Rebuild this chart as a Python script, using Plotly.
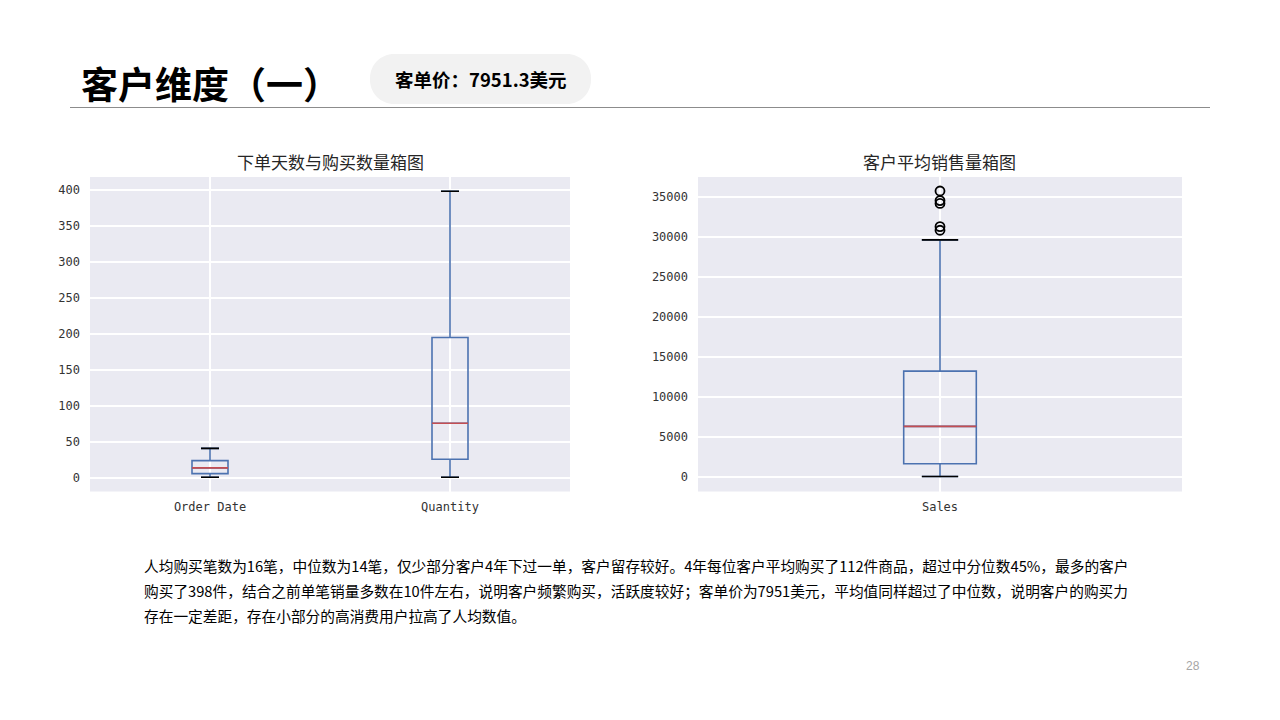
import plotly.graph_objects as go

# ---------------- data ----------------
left_categories = ["Order Date", "Quantity"]
left_lower = [1, 1]
left_q1 = [6, 26]
left_median = [14, 76]
left_q3 = [24, 195]
left_upper = [41, 398]

right_categories = ["Sales"]
right_lower = [80]
right_q1 = [1670]
right_median = [6350]
right_q3 = [13250]
right_upper = [29650]
right_outliers = [30850, 31300, 34200, 34550, 35750]

left_yticks = [0, 50, 100, 150, 200, 250, 300, 350, 400]
right_yticks = [0, 5000, 10000, 15000, 20000, 25000, 30000, 35000]

page_title = "客户维度（一）"
badge_text = "客单价：7951.3美元"
left_title = "下单天数与购买数量箱图"
right_title = "客户平均销售量箱图"
paragraph = [
    "人均购买笔数为16笔，中位数为14笔，仅少部分客户4年下过一单，客户留存较好。4年每位客户平均购买了112件商品，超过中分位数45%，最多的客户",
    "购买了398件，结合之前单笔销量多数在10件左右，说明客户频繁购买，活跃度较好；客单价为7951美元，平均值同样超过了中位数，说明客户的购买力",
    "存在一定差距，存在小部分的高消费用户拉高了人均数值。",
]
page_number = "28"

# ---------------- style ----------------
W, H = 1280, 720
BLUE = "#4C72B0"
RED = "#C44E52"
BG = "#EAEAF2"
BOX_W = 0.15
CJK = "Noto Sans CJK SC"
MONO = "DejaVu Sans Mono"


def px(x):
    return x / W


def py(y):
    return 1 - y / H


fig = go.Figure()


def add_boxes(xref, yref, cats, lo, q1, med, q3, hi):
    pos = [i + 1 for i in range(len(cats))]
    fig.add_trace(go.Box(
        x=pos, q1=q1, median=med, q3=q3, lowerfence=lo, upperfence=hi,
        width=BOX_W, whiskerwidth=0.5, boxpoints=False,
        line=dict(color=BLUE, width=1.6), fillcolor="rgba(0,0,0,0)",
        xaxis=xref, yaxis=yref, showlegend=False, hoverinfo="skip",
    ))
    for p, m, l, h in zip(pos, med, lo, hi):
        fig.add_trace(go.Scatter(
            x=[p - BOX_W / 2, p + BOX_W / 2], y=[m, m], mode="lines",
            line=dict(color=RED, width=1.6), xaxis=xref, yaxis=yref,
            showlegend=False, hoverinfo="skip"))
        for v in (l, h):
            fig.add_trace(go.Scatter(
                x=[p - BOX_W / 4, p + BOX_W / 4], y=[v, v], mode="lines",
                line=dict(color="#000000", width=1.6), xaxis=xref, yaxis=yref,
                showlegend=False, hoverinfo="skip"))
    return pos


lpos = add_boxes("x", "y", left_categories, left_lower, left_q1, left_median, left_q3, left_upper)
rpos = add_boxes("x2", "y2", right_categories, right_lower, right_q1, right_median, right_q3, right_upper)

fig.add_trace(go.Scatter(
    x=[rpos[0]] * len(right_outliers), y=right_outliers, mode="markers",
    marker=dict(symbol="circle-open", size=9, color="#000000", line=dict(width=1.8)),
    xaxis="x2", yaxis="y2", showlegend=False, hoverinfo="skip"))

axis_common = dict(
    showgrid=True, gridcolor="white", gridwidth=1.8, zeroline=False,
    showline=False, ticks="", fixedrange=True,
)
tick_font = dict(family=MONO, size=12, color="#333333")

ydom = [py(491.5), py(177)]
fig.update_layout(
    width=W, height=H, margin=dict(l=0, r=0, t=0, b=0),
    paper_bgcolor="white", plot_bgcolor=BG,
    xaxis=dict(domain=[px(90), px(570)], range=[0.5, len(lpos) + 0.5],
               tickvals=lpos, ticktext=left_categories, tickfont=tick_font,
               ticklabelstandoff=6, **axis_common),
    yaxis=dict(domain=ydom, range=[-18.85, 417.85], tickvals=left_yticks,
               tickformat="d", tickfont=tick_font,
               ticklabelstandoff=9, anchor="x", **axis_common),
    xaxis2=dict(domain=[px(698), px(1182)], range=[0.5, len(rpos) + 0.5],
                tickvals=rpos, ticktext=right_categories, tickfont=tick_font,
                ticklabelstandoff=6, anchor="y2", **axis_common),
    yaxis2=dict(domain=ydom, range=[-1790, 37500], tickvals=right_yticks,
                tickformat="d", tickfont=tick_font,
                ticklabelstandoff=9, anchor="x2", **axis_common),
)

# ---------------- decorations ----------------
shapes = []
x0, x1, y0, y1, r = 370, 591, 54, 104, 24
k = 0.5523 * r


def P(x, y):
    return f"{px(x)},{py(y)}"


path = (f"M {P(x0 + r, y0)} L {P(x1 - r, y0)} "
        f"C {P(x1 - r + k, y0)} {P(x1, y0 + r - k)} {P(x1, y0 + r)} "
        f"L {P(x1, y1 - r)} "
        f"C {P(x1, y1 - r + k)} {P(x1 - r + k, y1)} {P(x1 - r, y1)} "
        f"L {P(x0 + r, y1)} "
        f"C {P(x0 + r - k, y1)} {P(x0, y1 - r + k)} {P(x0, y1 - r)} "
        f"L {P(x0, y0 + r)} "
        f"C {P(x0, y0 + r - k)} {P(x0 + r - k, y0)} {P(x0 + r, y0)} Z")
shapes.append(dict(type="path", xref="paper", yref="paper", path=path,
                   fillcolor="#F2F2F2", line=dict(width=0), layer="below"))
shapes.append(dict(type="line", xref="paper", yref="paper",
                   x0=px(70), x1=px(1210), y0=py(107.5), y1=py(107.5),
                   line=dict(color="#8C8C8C", width=1)))
fig.update_layout(shapes=shapes)

ann = []
ann.append(dict(text=f"<b>{page_title}</b>", x=px(79), y=py(83), xanchor="left",
                yanchor="middle", font=dict(family=CJK, size=37, color="#000000")))
ann.append(dict(text=f"<b>{badge_text}</b>", x=px(480.5), y=py(79), xanchor="center",
                yanchor="middle", font=dict(family=CJK, size=18.5, color="#000000")))
ann.append(dict(text=left_title, x=px(330), y=py(162), xanchor="center",
                yanchor="middle", font=dict(family=CJK, size=17, color="#262626")))
ann.append(dict(text=right_title, x=px(939), y=py(162), xanchor="center",
                yanchor="middle", font=dict(family=CJK, size=17, color="#262626")))
for i, line in enumerate(paragraph):
    ann.append(dict(text=line, x=px(142), y=py(565 + 25 * i), xanchor="left",
                    yanchor="middle", font=dict(family=CJK, size=14.7, color="#000000")))
ann.append(dict(text=page_number, x=px(1193), y=py(666), xanchor="center",
                yanchor="middle", font=dict(family="Liberation Sans", size=12, color="#A6A6A6")))
for a in ann:
    a.update(xref="paper", yref="paper", showarrow=False)
fig.update_layout(annotations=ann)

fig.write_html("out.html", config={"displayModeBar": False})
